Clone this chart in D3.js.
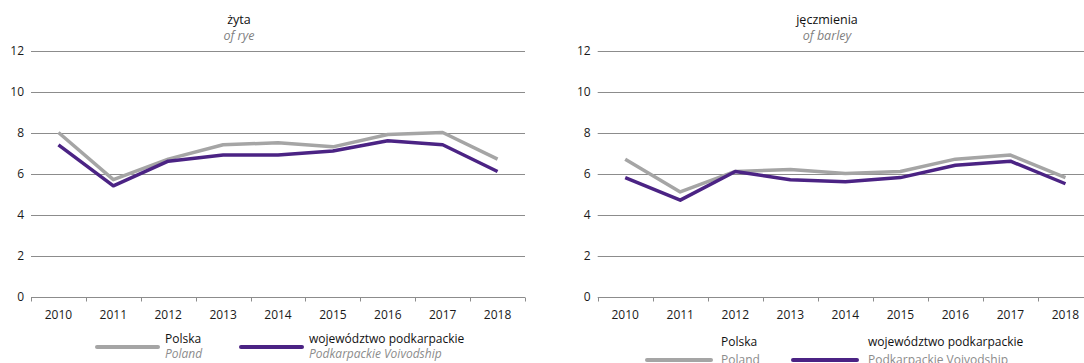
<!DOCTYPE html>
<html>
<head>
<meta charset="utf-8">
<script src="https://cdn.jsdelivr.net/npm/d3@7/dist/d3.min.js"></script>
<style>
  html, body { margin: 0; padding: 0; background: #fff; }
  svg { display: block; font-family: "Open Sans", "Noto Sans", sans-serif; }
</style>
</head>
<body>
<svg id="chart" width="1084" height="363"></svg>
<script>
// ---- data ----
const years = ["2010","2011","2012","2013","2014","2015","2016","2017","2018"];
const yTicks = [0, 2, 4, 6, 8, 10, 12];
const ryePolska = [8.0, 5.7, 6.7, 7.4, 7.5, 7.3, 7.9, 8.0, 6.7];
const ryePodkarpackie = [7.4, 5.4, 6.6, 6.9, 6.9, 7.1, 7.6, 7.4, 6.1];
const barleyPolska = [6.7, 5.1, 6.1, 6.2, 6.0, 6.1, 6.7, 6.9, 5.8];
const barleyPodkarpackie = [5.8, 4.7, 6.1, 5.7, 5.6, 5.8, 6.4, 6.6, 5.5];
const titlesPl = ["żyta", "jęczmienia"];
const titlesEn = ["of rye", "of barley"];
const seriesPl = ["Polska", "województwo podkarpackie"];
const seriesEn = ["Poland", "Podkarpackie Voivodship"];

// ---- layout ----
const svg = d3.select("#chart");
const GRAY = "#a5a5a5", PURPLE = "#4b2384";
const panels = [
  { x0: 31, x1: 525, yTop: 50.5, yBot: 296.5, titleX: 239, pl: ryePolska, pk: ryePodkarpackie,
    leg: { g0: 97, g1: 158, gy: 347, t1x: 165, p0: 241, p1: 302, t2x: 309, ty1: 343, ty2: 358, italic: true } },
  { x0: 597.7, x1: 1093, yTop: 50.5, yBot: 296.5, titleX: 827, pl: barleyPolska, pk: barleyPodkarpackie,
    leg: { g0: 647, g1: 711, gy: 360, t1x: 721, p0: 793, p1: 857, t2x: 868, ty1: 345.5, ty2: 364, italic: false } }
];

panels.forEach((p, i) => {
  const g = svg.append("g");
  const x = d3.scaleBand().domain(years).range([p.x0, p.x1]);
  const y = d3.scaleLinear().domain([0, 12]).range([p.yBot, p.yTop]);

  // gridlines
  g.append("g").selectAll("line").data(yTicks.filter(d => d > 0)).join("line")
    .attr("x1", p.x0).attr("x2", p.x1)
    .attr("y1", d => Math.round(y(d)) + 0.5).attr("y2", d => Math.round(y(d)) + 0.5)
    .attr("stroke", "#8c8c8c").attr("stroke-width", 1);

  // y labels
  g.append("g").selectAll("text").data(yTicks).join("text")
    .attr("x", p.x0 - 7).attr("y", d => y(d)).attr("dy", "0.36em")
    .attr("text-anchor", "end").attr("font-size", 12).attr("fill", "#1a1a1a")
    .text(d => d);

  // x axis
  const xa = g.append("g").attr("transform", `translate(0,${Math.round(y(0)) + 0.5})`);
  xa.append("line").attr("x1", p.x0).attr("x2", p.x1).attr("stroke", "#8c8c8c");
  const bounds = years.map(d => x(d)).concat([p.x1]);
  xa.selectAll("line.tk").data(bounds).join("line").attr("class", "tk")
    .attr("x1", d => Math.round(d) + 0.5).attr("x2", d => Math.round(d) + 0.5)
    .attr("y1", 0).attr("y2", 4).attr("stroke", "#8c8c8c");
  xa.selectAll("text").data(years).join("text")
    .attr("x", d => x(d) + x.bandwidth() / 2).attr("y", 21)
    .attr("text-anchor", "middle").attr("font-size", 12).attr("fill", "#1a1a1a")
    .text(d => d);

  // lines
  const line = d3.line().x((d, j) => x(years[j]) + x.bandwidth() / 2).y(d => y(d));
  g.append("path").datum(p.pl).attr("d", line).attr("fill", "none")
    .attr("stroke", GRAY).attr("stroke-width", 3.5).attr("stroke-linejoin", "round");
  g.append("path").datum(p.pk).attr("d", line).attr("fill", "none")
    .attr("stroke", PURPLE).attr("stroke-width", 3.5).attr("stroke-linejoin", "round");

  // titles
  g.append("text").attr("x", p.titleX).attr("y", 24).attr("text-anchor", "middle")
    .attr("font-size", 12.5).attr("fill", "#111").text(titlesPl[i]);
  g.append("text").attr("x", p.titleX).attr("y", 40).attr("text-anchor", "middle")
    .attr("font-size", 12.5).attr("font-style", "italic").attr("fill", "#7f7f7f").text(titlesEn[i]);

  // legend
  const L = p.leg;
  g.append("line").attr("x1", L.g0).attr("x2", L.g1).attr("y1", L.gy).attr("y2", L.gy)
    .attr("stroke", GRAY).attr("stroke-width", 4).attr("stroke-linecap", "round");
  g.append("line").attr("x1", L.p0).attr("x2", L.p1).attr("y1", L.gy).attr("y2", L.gy)
    .attr("stroke", PURPLE).attr("stroke-width", 4).attr("stroke-linecap", "round");
  [[L.t1x, 0], [L.t2x, 1]].forEach(([tx, k]) => {
    g.append("text").attr("x", tx).attr("y", L.ty1).attr("font-size", 12).attr("fill", "#111").text(seriesPl[k]);
    g.append("text").attr("x", tx).attr("y", L.ty2).attr("font-size", 12)
      .attr("font-style", L.italic ? "italic" : "normal").attr("fill", "#8c8c8c").text(seriesEn[k]);
  });
});
</script>
</body>
</html>
